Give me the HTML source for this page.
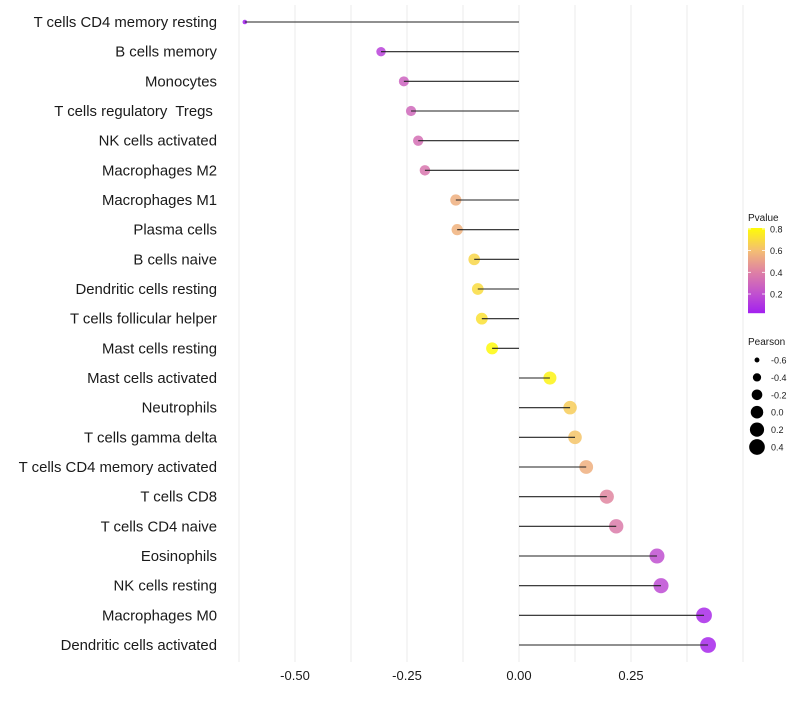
<!DOCTYPE html>
<html><head><meta charset="utf-8"><style>
body{margin:0;background:#fff;font-family:"Liberation Sans",Arial,sans-serif}
svg text{font-family:"Liberation Sans",Arial,sans-serif;white-space:pre}
</style></head><body>
<svg id="chart" width="800" height="700" xmlns="http://www.w3.org/2000/svg">
<g id="grid"></g>
<g id="rows"></g>
<g id="xaxis"></g>
<g id="legend"></g>
</svg>
<script>
const categories=["T cells CD4 memory resting","B cells memory","Monocytes","T cells regulatory  Tregs ","NK cells activated","Macrophages M2","Macrophages M1","Plasma cells","B cells naive","Dendritic cells resting","T cells follicular helper","Mast cells resting","Mast cells activated","Neutrophils","T cells gamma delta","T cells CD4 memory activated","T cells CD8","T cells CD4 naive","Eosinophils","NK cells resting","Macrophages M0","Dendritic cells activated"];
const pearson=[-0.612,-0.308,-0.257,-0.241,-0.225,-0.21,-0.141,-0.138,-0.100,-0.092,-0.083,-0.060,0.069,0.114,0.125,0.150,0.196,0.217,0.308,0.317,0.413,0.422];
const pvalue=[0.01,0.15,0.28,0.30,0.33,0.36,0.55,0.56,0.68,0.70,0.72,0.80,0.78,0.65,0.62,0.55,0.42,0.38,0.20,0.18,0.06,0.05];
const xTicks=[-0.5,-0.25,0,0.25];
const xTickLabels=["-0.50","-0.25","0.00","0.25"];
const sizeLegend=[-0.6,-0.4,-0.2,0.0,0.2,0.4];
const sizeLegendLabels=["-0.6","-0.4","-0.2","0.0","0.2","0.4"];
const pLegend=[0.8,0.6,0.4,0.2];

const NS="http://www.w3.org/2000/svg";
const X=v=>519+v*448;
const Y=i=>22+i*29.667;
const R=v=>1.12*Math.sqrt(Math.max(1,31.3+44.2*v));
const stops=[[0.02,[162,31,240]],[0.2,[192,80,208]],[0.4,[222,128,165]],[0.6,[244,190,115]],[0.82,[255,255,0]]];
function col(p){if(p<=stops[0][0])return`rgb(${stops[0][1]})`;for(let i=1;i<stops.length;i++){if(p<=stops[i][0]){const t=(p-stops[i-1][0])/(stops[i][0]-stops[i-1][0]);const a=stops[i-1][1],b=stops[i][1];return`rgb(${a.map((c,k)=>Math.round(c+(b[k]-c)*t)).join(',')})`;}}return`rgb(${stops[stops.length-1][1]})`;}
function mk(tag,attrs,parent){const e=document.createElementNS(NS,tag);for(const k in attrs)e.setAttribute(k,attrs[k]);parent.appendChild(e);return e;}

const grid=document.getElementById('grid');
for(let v=-0.625;v<=0.5;v+=0.125){
  const l=mk('line',{x1:X(v),x2:X(v),y1:5,y2:662,stroke:'#ebebeb','stroke-width':1},grid);
  
  
}
const rows=document.getElementById('rows');
categories.forEach((c,i)=>{
  const y=Y(i);
  const t=mk('text',{x:217,y:y+5,'text-anchor':'end','font-size':14.9,fill:'#1a1a1a'},rows);t.textContent=c;
  
  
  const p=mk('circle',{cx:X(pearson[i]),cy:y,r:R(pearson[i]),fill:col(pvalue[i]),'fill-opacity':0.85},rows);
  
  
  const l=mk('line',{x1:X(0),x2:X(pearson[i]),y1:y,y2:y,stroke:'#222','stroke-width':1.1},rows);
  
  
});
const xa=document.getElementById('xaxis');
xTicks.forEach((v,i)=>{
  const t=mk('text',{x:X(v),y:680,'text-anchor':'middle','font-size':13,fill:'#1a1a1a'},xa);t.textContent=xTickLabels[i];
  
  
});
const lg=document.getElementById('legend');
const pt=mk('text',{x:748,y:221,'font-size':10,fill:'#1a1a1a'},lg);pt.textContent='Pvalue';


const PY=p=>313-(p-0.025)*108.5;
for(let y=228;y<313;y++){
  const r=mk('rect',{x:748,y:y,width:17,height:1.2,fill:col(0.025+(313-y-0.5)/108.5)},lg);
  
  
}
pLegend.forEach(p=>{
  const y=PY(p);
  mk('line',{x1:748,x2:751,y1:y,y2:y,stroke:'#fff','stroke-width':0.8},lg);
  mk('line',{x1:762,x2:765,y1:y,y2:y,stroke:'#fff','stroke-width':0.8},lg);
  const t=mk('text',{x:770,y:y+3.5,'font-size':9,fill:'#1a1a1a'},lg);t.textContent=p.toFixed(1);
  
  
});
const st=mk('text',{x:748,y:345,'font-size':10,fill:'#1a1a1a'},lg);st.textContent='Pearson';


sizeLegend.forEach((v,i)=>{
  const y=360+i*17.4;
  const c=mk('circle',{cx:757,cy:y,r:R(v),fill:'#000'},lg);
  
  
  const t=mk('text',{x:771,y:y+3.5,'font-size':9,fill:'#1a1a1a'},lg);t.textContent=sizeLegendLabels[i];
  
  
});
</script>
</body></html>
